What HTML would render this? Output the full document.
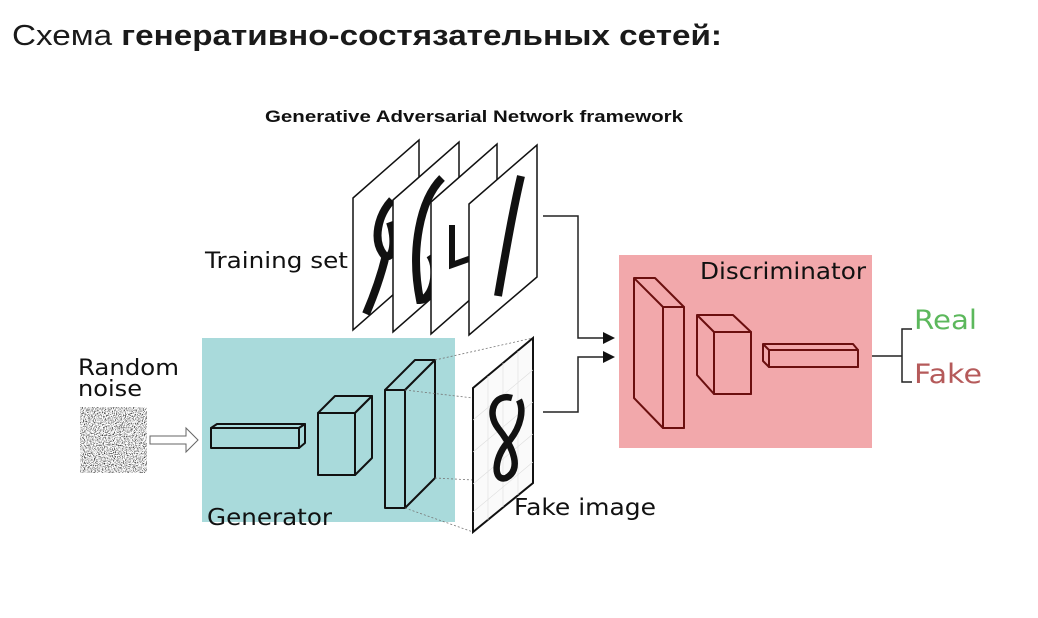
<!DOCTYPE html>
<html><head><meta charset="utf-8"><style>
html,body{margin:0;padding:0;background:#fff;width:1038px;height:618px;overflow:hidden}
svg{position:absolute;left:0;top:0}
</style></head><body>
<svg width="1038" height="618" viewBox="0 0 1038 618" font-family="'DejaVu Sans','Liberation Sans',sans-serif">
<defs>
<filter id="nz" x="0" y="0" width="100%" height="100%">
<feTurbulence type="fractalNoise" baseFrequency="0.9" numOctaves="2" seed="3"/>
<feColorMatrix type="matrix" values="0 0 0 0 0  0 0 0 0 0  0 0 0 0 0  -3 0 0 0 1.6"/>
</filter>
</defs>
<text x="12" y="45" font-family="'Liberation Sans','Noto Sans CJK SC',sans-serif" font-size="29" fill="#1a1a1a" textLength="710" lengthAdjust="spacingAndGlyphs">Схема <tspan font-weight="bold">генеративно-состязательных сетей:</tspan></text>
<text x="265" y="122" font-family="'Liberation Sans',sans-serif" font-weight="bold" font-size="17" fill="#111" textLength="418" lengthAdjust="spacingAndGlyphs">Generative Adversarial Network framework</text>

<!-- training pages -->
<g stroke="#111" stroke-width="1.5" fill="#fff">
<polygon points="353,198 419,140 419,272 353,330"/>
<path d="M392,200 C378,215 372,240 384,255 C394,262 396,238 390,222 M386,255 C380,280 372,300 366,314" stroke-width="8" fill="none"/>
<polygon points="393,200 459,142 459,274 393,332"/>
<path d="M442,178 C420,200 410,250 420,300 C432,300 440,270 430,255" stroke-width="8" fill="none"/>
<polygon points="431,202 497,144 497,276 431,334"/>
<path d="M452,225 L452,265 L480,255" stroke-width="6" fill="none"/>
<polygon points="469,204 537,145 537,277 469,335"/>
<path d="M521,176 C513,210 506,250 498,296" stroke-width="8" fill="none"/>
</g>
<text x="205" y="268" font-size="22" fill="#111" textLength="143" lengthAdjust="spacingAndGlyphs">Training set</text>

<!-- connectors -->
<g stroke="#222" stroke-width="1.5" fill="none">
<polyline points="543,216 578,216 578,338 604,338"/>
<polyline points="543,412 578,412 578,357 604,357"/>
<polyline points="872,356 902,356"/>
<polyline points="912,329 902,329 902,382 912,382"/>
</g>
<polygon points="603,332 615,338 603,344" fill="#111"/>
<polygon points="603,351 615,357 603,363" fill="#111"/>

<!-- generator -->
<rect x="202" y="338" width="253" height="184" fill="#a9dadb"/>
<text x="207" y="525" font-size="23" fill="#111" textLength="125" lengthAdjust="spacingAndGlyphs">Generator</text>
<g stroke="#111" stroke-width="2" fill="#a9dadb" stroke-linejoin="round">
<polygon points="211,428 217,424 305,424 299,428"/>
<polygon points="299,428 305,424 305,443 299,448"/>
<rect x="211" y="428" width="88" height="20"/>
<polygon points="318,413 335,396 372,396 355,413"/>
<polygon points="355,413 372,396 372,458 355,475"/>
<rect x="318" y="413" width="37" height="62"/>
<polygon points="385,390 415,360 435,360 405,390"/>
<polygon points="405,390 435,360 435,478 405,508"/>
<rect x="385" y="390" width="20" height="118"/>
</g>
<!-- fake image -->
<g stroke="#777" stroke-width="0.8" stroke-dasharray="2,2" fill="none">
<line x1="435" y1="360" x2="533" y2="338"/>
<line x1="405" y1="390" x2="473" y2="398"/>
<line x1="435" y1="478" x2="473" y2="480"/>
<line x1="405" y1="508" x2="473" y2="532"/>
</g>
<polygon points="473,388 533,338 533,483 473,532" fill="#fafafa" stroke="#111" stroke-width="2"/>
<g stroke="#ddd" stroke-width="0.6">
<line x1="488" y1="376" x2="488" y2="520"/><line x1="503" y1="363" x2="503" y2="507"/><line x1="518" y1="351" x2="518" y2="495"/>
<line x1="473" y1="420" x2="533" y2="370"/><line x1="473" y1="452" x2="533" y2="402"/><line x1="473" y1="484" x2="533" y2="434"/><line x1="473" y1="512" x2="533" y2="462"/>
</g>
<path d="M512,398 C495,393 486,412 498,428 C514,448 522,470 506,478 C492,482 494,455 510,440 C521,426 524,410 519,400" stroke="#111" stroke-width="6.5" fill="none"/>
<text x="514" y="515" font-size="23" fill="#111" textLength="142" lengthAdjust="spacingAndGlyphs">Fake image</text>

<!-- noise -->
<text x="78" y="375" font-size="22" fill="#111" textLength="101" lengthAdjust="spacingAndGlyphs">Random</text>
<text x="78" y="396" font-size="22" fill="#111" textLength="64" lengthAdjust="spacingAndGlyphs">noise</text>
<rect x="80" y="407" width="67" height="66" fill="#fff"/>
<rect x="80" y="407" width="67" height="66" filter="url(#nz)"/>
<polygon points="150,436 186,436 186,428 198,440 186,452 186,444 150,444" fill="#fff" stroke="#666" stroke-width="1"/>

<!-- discriminator -->
<rect x="619" y="255" width="253" height="193" fill="#f2a8ab"/>
<text x="700" y="279" font-size="23" fill="#111" textLength="166" lengthAdjust="spacingAndGlyphs">Discriminator</text>
<g stroke="#6b0f0f" stroke-width="2" fill="#f2a8ab" stroke-linejoin="round">
<polygon points="634,278 655,278 684,307 684,428 663,428 634,398"/>
<line x1="634" y1="278" x2="663" y2="307"/>
<rect x="663" y="307" width="21" height="121"/>
<polygon points="697,315 733,315 751,332 751,394 714,394 697,375"/>
<line x1="697" y1="315" x2="714" y2="332"/>
<rect x="714" y="332" width="37" height="62"/>
<polygon points="763,344 853,344 858,350 858,367 769,367 763,361"/>
<line x1="763" y1="344" x2="769" y2="350"/>
<rect x="769" y="350" width="89" height="17"/>
</g>
<text x="914" y="329" font-size="27" fill="#5cb85c" textLength="63" lengthAdjust="spacingAndGlyphs">Real</text>
<text x="914" y="383" font-size="27" fill="#b55a5a" textLength="68" lengthAdjust="spacingAndGlyphs">Fake</text>
</svg>
</body></html>
